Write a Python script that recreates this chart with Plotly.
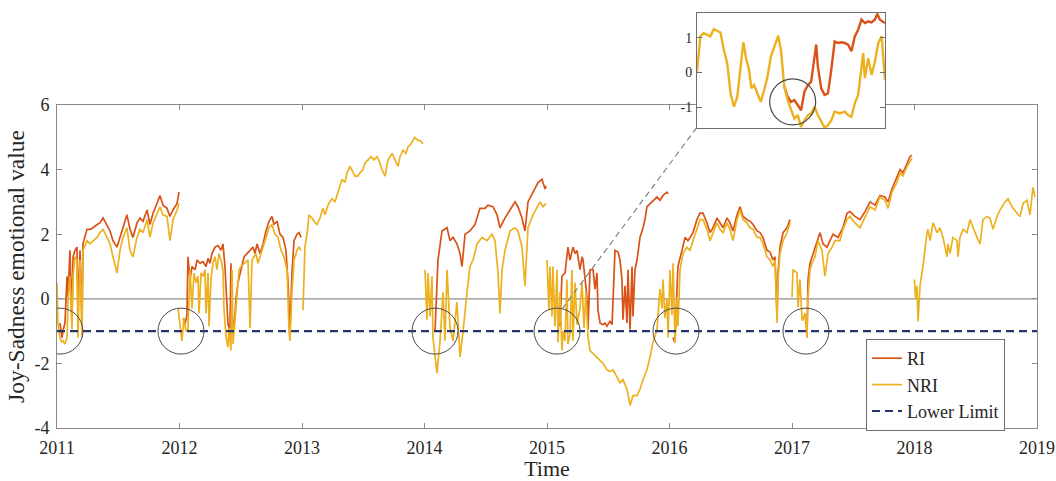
import plotly.graph_objects as go

# ---------------- data (decimal years, Joy-Sadness value) ----------------
nri_2011_t = [2011.000, 2011.008, 2011.024, 2011.041, 2011.049, 2011.065, 2011.082, 2011.090, 2011.106, 2011.122,
              2011.131, 2011.147, 2011.163, 2011.171, 2011.188, 2011.204, 2011.212, 2011.245, 2011.269, 2011.294,
              2011.327, 2011.351, 2011.376, 2011.408, 2011.433, 2011.457, 2011.490, 2011.514, 2011.539, 2011.571,
              2011.596, 2011.620, 2011.653, 2011.678, 2011.702, 2011.735, 2011.759, 2011.784, 2011.816, 2011.841,
              2011.865, 2011.898, 2011.922, 2011.947, 2011.980, 2011.996]
nri_2011_v = [0.5, -0.75, -1.2, -1.35, -1.3, -1.4, -1.2, 0.0, 0.7, -0.95,
              0.7, 1.3, 1.2, -1.2, 1.2, -1.2, 1.5, 1.8, 1.7, 1.8,
              1.9, 2.05, 2.15, 1.9, 1.7, 1.3, 0.8, 1.5, 1.9, 2.2,
              1.5, 1.3, 1.9, 2.15, 2.05, 2.45, 1.9, 2.35, 2.65, 2.85,
              2.6, 2.55, 1.8, 2.45, 2.75, 2.95]
ri_2011_t = [2011.024, 2011.041, 2011.049, 2011.065, 2011.082, 2011.090, 2011.106, 2011.122,
             2011.131, 2011.147, 2011.163, 2011.171, 2011.188, 2011.204, 2011.212, 2011.245, 2011.269, 2011.294,
             2011.327, 2011.351, 2011.376, 2011.408, 2011.433, 2011.457, 2011.490, 2011.514, 2011.539, 2011.571,
             2011.596, 2011.620, 2011.653, 2011.678, 2011.702, 2011.735, 2011.759, 2011.784, 2011.816, 2011.841,
             2011.865, 2011.898, 2011.922, 2011.947, 2011.980, 2011.996]
ri_2011_v = [-0.75, -1.2, -1.0, -0.75, 0.7, 0.05, 1.5, -0.65,
             1.3, 1.5, 1.6, -0.35, 1.5, -0.75, 1.7, 2.15, 2.15, 2.2,
             2.3, 2.35, 2.5, 2.3, 2.1, 1.8, 1.6, 1.9, 2.2, 2.6,
             2.15, 1.9, 2.35, 2.5, 2.4, 2.75, 2.3, 2.65, 2.95, 3.2,
             2.9, 2.8, 2.55, 2.75, 2.95, 3.3]

ri_2012_t = [2012.029, 2012.045, 2012.061, 2012.069, 2012.086, 2012.102, 2012.127, 2012.143, 2012.167, 2012.192,
             2012.216, 2012.233, 2012.249, 2012.265, 2012.290, 2012.314, 2012.339, 2012.355, 2012.371, 2012.380,
             2012.396, 2012.412, 2012.420, 2012.429, 2012.445, 2012.461, 2012.478, 2012.502, 2012.527, 2012.551,
             2012.576, 2012.600, 2012.616, 2012.633, 2012.657, 2012.682, 2012.706, 2012.731, 2012.755, 2012.771,
             2012.796, 2012.820, 2012.845, 2012.869, 2012.886, 2012.902, 2012.918, 2012.935, 2012.959, 2012.976,
             2012.992]
ri_2012_v = [-0.6, -0.8, -0.5, 1.3, 0.6, 1.0, 0.9, 1.2, 1.1, 1.15,
             1.0, 1.25, 1.1, 1.4, 1.6, 1.65, 1.5, 1.7, 1.0, 0.2,
             -0.8, -0.95, 1.1, -0.5, -0.95, 0.0, 0.5, 0.9, 1.3, 1.4,
             1.5, 1.6, 1.4, 1.7, 1.4, 1.7, 2.1, 2.4, 2.55, 2.3,
             2.4, 2.0, 1.9, 1.5, 0.5, -1.0, 0.8, 1.8, 2.0, 2.05,
             1.9]
nri_2012_t = [2011.988, 2012.004, 2012.020, 2012.037, 2012.053, 2012.069, 2012.078, 2012.086, 2012.102, 2012.118,
              2012.135, 2012.151, 2012.159, 2012.176, 2012.192, 2012.208, 2012.216, 2012.233, 2012.241, 2012.257,
              2012.273, 2012.290, 2012.306, 2012.322, 2012.339, 2012.355, 2012.363, 2012.380, 2012.396, 2012.404,
              2012.420, 2012.429, 2012.437, 2012.453, 2012.469, 2012.486, 2012.502, 2012.535, 2012.559, 2012.576,
              2012.592, 2012.624, 2012.641, 2012.657, 2012.682, 2012.706, 2012.731, 2012.755, 2012.780, 2012.804,
              2012.829, 2012.853, 2012.878, 2012.894, 2012.902, 2012.918, 2012.935, 2012.959, 2012.976, 2012.992]
nri_2012_v = [-0.3, -0.9, -1.3, -0.6, -1.0, -0.95, 0.2, 0.9, -0.3, 0.8,
              0.5, 0.7, -0.45, 0.8, 0.7, 0.9, -0.45, 0.8, -0.85, 0.6,
              1.1, 1.3, 0.9, 1.4, 1.2, 0.9, -0.3, -1.2, -1.5, -0.9,
              -1.6, 0.9, -1.4, -0.6, 0.3, 0.9, 1.0, 1.1, 1.2, -0.9,
              1.2, 1.4, 1.1, 1.3, 1.6, 1.9, 2.2, 2.3, 2.0, 1.9,
              1.5, 1.3, 0.9, -1.0, -1.3, 0.2, 1.2, 1.5, 1.6, 1.5]

nri_2013_t = [2013.008, 2013.024, 2013.041, 2013.057, 2013.082, 2013.098, 2013.122, 2013.147, 2013.171, 2013.188,
              2013.212, 2013.245, 2013.269, 2013.294, 2013.327, 2013.351, 2013.367, 2013.392, 2013.408, 2013.433,
              2013.457, 2013.473, 2013.498, 2013.514, 2013.539, 2013.563, 2013.588, 2013.612, 2013.637, 2013.653,
              2013.678, 2013.702, 2013.735, 2013.759, 2013.784, 2013.800, 2013.824, 2013.849, 2013.865, 2013.890,
              2013.922, 2013.947, 2013.963, 2013.988]
nri_2013_v = [-0.35, 1.6, 2.0, 2.6, 2.5, 2.4, 2.3, 2.5, 2.8, 2.6,
              2.9, 3.1, 3.0, 3.3, 3.7, 3.6, 3.9, 4.1, 4.0, 3.8,
              3.8, 3.9, 4.0, 4.2, 4.3, 4.4, 4.3, 4.4, 4.2, 4.0,
              3.8, 4.3, 4.5, 4.3, 4.1, 4.4, 4.6, 4.5, 4.7, 4.8,
              5.0, 4.9, 4.9, 4.8]

nri_2014_t = [2014.004, 2014.020, 2014.029, 2014.045, 2014.061, 2014.069, 2014.102, 2014.127, 2014.151, 2014.167,
              2014.184, 2014.208, 2014.233, 2014.265, 2014.290, 2014.314, 2014.347, 2014.371, 2014.396, 2014.429,
              2014.469, 2014.510, 2014.551, 2014.576, 2014.600, 2014.616, 2014.633, 2014.657, 2014.698, 2014.739,
              2014.763, 2014.796, 2014.820, 2014.845, 2014.886, 2014.943, 2014.967, 2014.992]
nri_2014_v = [0.9, -0.65, 0.8, -0.55, 0.7, -1.2, -2.3, -1.3, 0.2, -1.3,
              0.9, -0.9, -1.3, -0.1, -1.8, -1.05, 0.2, 1.0, 1.2, 1.7,
              1.9, 1.8, 2.0, 1.8, 0.8, -0.45, 0.9, 1.5, 2.1, 2.2,
              2.1, 1.6, 0.4, 2.2, 2.6, 3.0, 2.85, 2.95]
ri_2014_t = [2014.086, 2014.110, 2014.143, 2014.184, 2014.208, 2014.233, 2014.265, 2014.290, 2014.306, 2014.331,
             2014.371, 2014.412, 2014.453, 2014.494, 2014.518, 2014.559, 2014.592, 2014.616, 2014.657, 2014.698,
             2014.739, 2014.763, 2014.796, 2014.820, 2014.845, 2014.886, 2014.927, 2014.959, 2014.984, 2014.992]
ri_2014_v = [-1.0, 1.2, 2.1, 2.2, 1.8, 1.9, 1.7, 1.4, 1.0, 2.0,
             2.1, 2.3, 2.8, 2.8, 2.9, 2.85, 2.6, 2.2, 2.5, 2.75,
             3.0, 2.85, 2.5, 2.1, 3.0, 3.3, 3.6, 3.7, 3.4, 3.5]

nri_2015_16_t = [2015.000, 2015.016, 2015.024, 2015.041, 2015.049, 2015.065, 2015.082, 2015.090, 2015.106, 2015.122,
                 2015.131, 2015.147, 2015.163, 2015.171, 2015.188, 2015.204, 2015.212, 2015.229, 2015.245, 2015.269,
                 2015.286, 2015.302, 2015.318, 2015.335, 2015.351, 2015.376, 2015.408, 2015.433, 2015.457, 2015.490,
                 2015.514, 2015.539, 2015.571, 2015.596, 2015.620, 2015.653, 2015.678, 2015.694, 2015.702, 2015.735,
                 2015.759, 2015.784, 2015.816, 2015.841, 2015.865, 2015.898, 2015.906, 2015.922, 2015.939, 2015.947,
                 2015.963, 2015.980, 2015.988, 2016.004, 2016.020, 2016.029, 2016.045, 2016.061, 2016.069, 2016.086,
                 2016.110, 2016.143, 2016.167, 2016.192, 2016.224, 2016.249, 2016.273, 2016.306, 2016.331, 2016.355,
                 2016.388, 2016.412, 2016.437, 2016.469, 2016.494, 2016.518, 2016.551, 2016.576, 2016.600, 2016.633,
                 2016.657, 2016.682, 2016.714, 2016.739, 2016.763, 2016.796, 2016.820, 2016.845, 2016.861, 2016.878,
                 2016.886, 2016.902, 2016.927, 2016.959, 2016.984]
nri_2015_16_v = [1.2, -0.35, 1.0, -0.55, 1.0, -0.85, 0.9, -1.35, 0.2, -1.6,
                 -1.0, -1.3, 0.6, -1.4, -1.1, 0.9, -1.3, 0.5, -0.8, -0.3,
                 0.5, -0.9, 0.2, -1.2, -1.6, -1.7, -1.8, -1.9, -2.0, -2.2,
                 -2.25, -2.2, -2.4, -2.6, -2.5, -2.8, -3.3, -3.1, -3.0, -3.0,
                 -2.8, -2.5, -2.2, -1.8, -1.35, -0.95, -0.45, 0.3, -0.3, 0.6,
                 -0.6, 0.0, -1.2, 0.9, -0.5, 1.1, -1.35, 0.05, -0.85, 0.9,
                 1.4, 1.6, 1.5, 1.8, 2.2, 2.45, 2.45, 2.15, 1.8, 2.05,
                 2.35, 2.15, 2.05, 2.35, 2.15, 1.8, 2.45, 2.75, 2.45, 2.35,
                 2.2, 2.15, 1.9, 1.9, 1.7, 1.3, 1.2, 1.0, 1.2, -0.75,
                 0.6, 1.4, 1.8, 2.05, 2.35]
ri_2015_t = [2015.106, 2015.122, 2015.147, 2015.171, 2015.188, 2015.212, 2015.229, 2015.245, 2015.269, 2015.286,
             2015.294, 2015.327, 2015.335, 2015.351, 2015.376, 2015.392, 2015.408, 2015.416, 2015.433, 2015.457,
             2015.473, 2015.490, 2015.514, 2015.531, 2015.555, 2015.580, 2015.596, 2015.612, 2015.620, 2015.637,
             2015.653, 2015.661, 2015.678, 2015.694, 2015.702, 2015.718, 2015.735, 2015.743, 2015.759, 2015.784,
             2015.800, 2015.816, 2015.841, 2015.865, 2015.898, 2015.922, 2015.947, 2015.980, 2015.988]
ri_2015_v = [-0.85, 0.7, 0.8, 1.6, 1.2, 1.6, 1.4, 1.5, 0.9, 1.3,
             1.2, 0.05, -0.95, 0.9, 0.9, 0.3, 0.8, -0.35, -0.75, -0.8,
             -0.75, -0.85, -0.7, -0.8, 1.5, 1.45, 1.2, 0.6, -0.65, 0.4,
             -0.75, 0.9, -0.95, 1.0, -0.55, 0.9, 1.2, 1.5, 1.9, 2.2,
             2.45, 2.85, 2.95, 3.05, 3.15, 3.05, 3.2, 3.3, 3.25]
ri_2016_t = [2016.029, 2016.045, 2016.061, 2016.069, 2016.102, 2016.127, 2016.151, 2016.192, 2016.224, 2016.249,
             2016.273, 2016.306, 2016.331, 2016.355, 2016.388, 2016.412, 2016.437, 2016.469, 2016.494, 2016.518,
             2016.551, 2016.576, 2016.600, 2016.633, 2016.657, 2016.682, 2016.714, 2016.739, 2016.763, 2016.796,
             2016.820, 2016.845, 2016.861, 2016.878, 2016.886, 2016.902, 2016.927, 2016.959, 2016.984]
ri_2016_v = [-1.2, -1.35, 0.3, 1.0, 1.5, 1.9, 1.8, 2.05, 2.45, 2.65,
             2.65, 2.35, 2.05, 2.2, 2.5, 2.35, 2.2, 2.5, 2.35, 2.1,
             2.6, 2.85, 2.55, 2.45, 2.4, 2.3, 2.1, 2.05, 1.9, 1.5,
             1.45, 1.2, 1.3, -0.5, 0.8, 1.6, 2.05, 2.2, 2.45]

nri_2017_t = [2017.000, 2017.008, 2017.041, 2017.049, 2017.065, 2017.082, 2017.090, 2017.106, 2017.122, 2017.131,
              2017.147, 2017.163, 2017.188, 2017.212, 2017.245, 2017.269, 2017.294, 2017.327, 2017.351, 2017.392,
              2017.416, 2017.449, 2017.473, 2017.514, 2017.555, 2017.596, 2017.637, 2017.678, 2017.718, 2017.759,
              2017.784, 2017.816, 2017.857, 2017.882, 2017.906, 2017.939, 2017.963, 2017.980]
nri_2017_v = [0.05, 0.9, 0.8, -0.25, 0.6, -0.65, -0.65, -0.45, -1.2, 0.05,
              0.9, 1.1, 1.3, 1.8, 1.5, 0.7, 1.4, 1.6, 1.8, 1.8,
              2.15, 2.45, 2.55, 2.35, 2.2, 2.55, 2.85, 2.75, 3.15, 3.05,
              2.8, 3.3, 3.6, 3.9, 3.8, 4.1, 4.25, 4.35]
ri_2017_t = [2017.122, 2017.131, 2017.147, 2017.171, 2017.204, 2017.229, 2017.253, 2017.286, 2017.310, 2017.335,
             2017.376, 2017.416, 2017.449, 2017.473, 2017.514, 2017.555, 2017.596, 2017.637, 2017.678, 2017.718,
             2017.759, 2017.784, 2017.816, 2017.857, 2017.882, 2017.906, 2017.939, 2017.963, 2017.980]
ri_2017_v = [-1.2, 0.6, 1.1, 1.4, 1.8, 2.05, 1.7, 1.6, 1.8, 2.0,
             1.9, 2.2, 2.65, 2.7, 2.55, 2.45, 2.7, 3.0, 2.9, 3.2,
             3.15, 3.0, 3.4, 3.75, 4.0, 3.9, 4.2, 4.4, 4.45]

nri_2018_t = [2018.000, 2018.008, 2018.020, 2018.029, 2018.045, 2018.069, 2018.102, 2018.110, 2018.127, 2018.151,
              2018.184, 2018.208, 2018.233, 2018.265, 2018.273, 2018.290, 2018.314, 2018.347, 2018.355, 2018.371,
              2018.396, 2018.429, 2018.453, 2018.478, 2018.510, 2018.535, 2018.559, 2018.592, 2018.616, 2018.641,
              2018.673, 2018.698, 2018.739, 2018.763, 2018.796, 2018.837, 2018.861, 2018.886, 2018.918, 2018.943,
              2018.967, 2018.984]
nri_2018_v = [0.6, 0.0, 0.4, -0.7, 0.4, 1.0, 2.05, 2.15, 1.8, 2.35,
              2.05, 2.2, 1.9, 1.3, 1.7, 1.4, 1.9, 1.8, 1.3, 1.9,
              2.15, 2.05, 2.45, 2.2, 1.9, 1.7, 2.45, 2.55, 2.5, 2.15,
              2.55, 2.75, 3.0, 3.1, 2.85, 2.65, 2.55, 2.95, 3.05, 2.6,
              3.45, 3.15]

lower_limit = -1.0
year_ticks = [2011, 2012, 2013, 2014, 2015, 2016, 2017, 2018, 2019]
value_ticks = [-4, -2, 0, 2, 4, 6]
value_tick_text = ["-4", "-2", "0", "2", "4", "6"]
circle_years = [2011.024, 2012.012, 2014.086, 2015.082, 2016.053, 2017.114]

# inset (zoomed window, days)
inset_nri_day = [0, 1, 2, 3, 4, 5, 6, 7, 8, 9, 10, 11, 12, 13, 13.8, 14.7, 15.5, 16.2, 17, 18, 19, 20, 21, 22,
                 23.3, 24.2, 25, 26, 27, 28, 29, 30, 31, 32, 33, 34, 35, 36, 37, 38, 39, 40, 41, 42.5, 44, 45,
                 46, 47, 48, 49, 49.5, 50, 51, 52, 53, 54, 55, 56]
inset_nri_val = [0.03, 1.04, 1.13, 1.09, 1.04, 1.25, 1.21, 1.15, 0.65, 0.27, -0.6, -0.98, -0.69, 0.17,
                 0.87, 0.37, 0.08, -0.45, -0.36, -0.6, -0.84, -0.5, -0.12, 0.46, 0.85, 1.06,
                 0.65, -0.4, -0.79, -1.08, -1.32, -1.22, -1.56, -1.37, -1.22, -1.17, -0.98, -1.22, -1.41, -1.58,
                 -1.51, -1.37, -1.12, -1.17, -1.12, -1.22, -1.27, -0.88, -0.64, 0.08, 0.56, -0.16, 0.41, -0.07,
                 0.32, 0.85, 1.04, -0.21]
inset_ri_day = [26, 27, 28, 29, 30, 31, 32, 33, 34, 35, 35.5, 36, 37, 38, 39, 40, 41, 42, 43, 44, 45, 46,
                47, 48, 49, 50, 51, 52, 53, 53.7, 54.5, 56]
inset_ri_val = [-0.4, -0.69, -0.84, -0.79, -0.93, -1.08, -0.55, -0.36, -0.26, 0.56, 0.8, 0.17, -0.45, -0.64,
                -0.6, 0.08, 0.89, 0.85, 0.87, 0.85, 0.8, 0.61, 1.04, 1.23, 1.52, 1.42, 1.47, 1.44, 1.52,
                1.69, 1.52, 1.42]
inset_ticks = [-1, 0, 1]
inset_tick_text = ["-1", "0", "1"]
inset_circle = (28.5, -0.84)


def join(*segs):
    xs, ys = [], []
    for t, v in segs:
        if xs:
            xs.append(None)
            ys.append(None)
        xs.extend(t)
        ys.extend(v)
    return xs, ys


ri_x, ri_y = join((ri_2011_t, ri_2011_v), (ri_2012_t, ri_2012_v), (ri_2014_t, ri_2014_v),
                  (ri_2015_t, ri_2015_v), (ri_2016_t, ri_2016_v), (ri_2017_t, ri_2017_v))
nri_x, nri_y = join((nri_2011_t, nri_2011_v), (nri_2012_t, nri_2012_v), (nri_2013_t, nri_2013_v),
                    (nri_2014_t, nri_2014_v), (nri_2015_16_t, nri_2015_16_v), (nri_2017_t, nri_2017_v),
                    (nri_2018_t, nri_2018_v))

# ---------------- style / layout ----------------
W, H = 1056, 481
RI_C = "#d95319"
NRI_C = "#edb120"
LL_C = "#27336b"
AX_C = "#8a8a8a"
TXT = "#262626"
FONT = "Liberation Serif"

main_x = [57 / W, 1037 / W]
main_y = [1 - 428 / H, 1 - 105 / H]
ins_x = [697 / W, 885 / W]
ins_y = [1 - 128 / H, 1 - 13 / H]

fig = go.Figure()
fig.add_trace(go.Scatter(x=ri_x, y=ri_y, mode="lines", name="RI",
                         line=dict(color=RI_C, width=1.7), connectgaps=False))
fig.add_trace(go.Scatter(x=nri_x, y=nri_y, mode="lines", name="NRI",
                         line=dict(color=NRI_C, width=1.7), connectgaps=False))
fig.add_trace(go.Scatter(x=[year_ticks[0], year_ticks[-1]], y=[lower_limit, lower_limit], mode="lines",
                         name="Lower Limit", line=dict(color=LL_C, width=2.2, dash="8px,5px")))

fig.add_trace(go.Scatter(x=inset_ri_day, y=inset_ri_val, mode="lines", showlegend=False,
                         line=dict(color=RI_C, width=2.4), xaxis="x2", yaxis="y2"))
fig.add_trace(go.Scatter(x=inset_nri_day, y=inset_nri_val, mode="lines", showlegend=False,
                         line=dict(color=NRI_C, width=2.4), xaxis="x2", yaxis="y2"))

shapes = [dict(type="line", xref="x", yref="y", x0=year_ticks[0], x1=year_ticks[-1], y0=0, y1=0,
               line=dict(color="#8c8c8c", width=1.3), layer="below")]
for cy in circle_years:
    shapes.append(dict(type="circle", xref="x", yref="y", xsizemode="pixel", ysizemode="pixel",
                       xanchor=cy, yanchor=lower_limit, x0=-23, x1=23, y0=-23, y1=23,
                       line=dict(color="#4a4a4a", width=1)))
shapes.append(dict(type="circle", xref="x2", yref="y2", xsizemode="pixel", ysizemode="pixel",
                   xanchor=inset_circle[0], yanchor=inset_circle[1], x0=-23, x1=23, y0=-23, y1=23,
                   line=dict(color="#4a4a4a", width=1.2)))
shapes.append(dict(type="line", xref="x", yref="y", xsizemode="pixel", ysizemode="pixel",
                   xanchor=circle_years[3], yanchor=lower_limit, x0=5, y0=22, x1=140, y1=204,
                   line=dict(color="#7a7a7a", width=1.1, dash="6px,4px")))

axis_common = dict(showgrid=False, zeroline=False, showline=True, linecolor=AX_C, linewidth=1,
                   mirror="ticks", ticks="inside", ticklen=5, tickcolor=AX_C, automargin=False,
                   tickfont=dict(family=FONT, size=18, color=TXT))

fig.update_layout(
    width=W, height=H, autosize=False,
    margin=dict(l=0, r=0, t=0, b=0, pad=0),
    paper_bgcolor="white", plot_bgcolor="white",
    font=dict(family=FONT, color=TXT),
    shapes=shapes,
    showlegend=True,
    legend=dict(x=866 / W, y=1 - 339 / H, xanchor="left", yanchor="top",
                bgcolor="white", bordercolor="#6e6e6e", borderwidth=1,
                font=dict(family=FONT, size=18, color=TXT), tracegroupgap=0, itemwidth=30),
    xaxis=dict(domain=main_x, range=[year_ticks[0], year_ticks[-1]], tickvals=year_ticks,
               ticktext=[str(y) for y in year_ticks], anchor="y",
               title=dict(text="Time", font=dict(family=FONT, size=22, color=TXT), standoff=4),
               ticklabelstandoff=3, **axis_common),
    yaxis=dict(domain=main_y, range=[value_ticks[0], value_ticks[-1]], tickvals=value_ticks,
               ticktext=value_tick_text, anchor="x",
               title=dict(text="Joy-Sadness emotional value", font=dict(family=FONT, size=23.5, color=TXT),
                          standoff=3),
               ticklabelstandoff=3, **axis_common),
    xaxis2=dict(domain=ins_x, range=[inset_nri_day[0], inset_nri_day[-1]], anchor="y2",
                showticklabels=False, showgrid=False, zeroline=False, showline=True, automargin=False,
                linecolor="#6e6e6e", linewidth=1, mirror=True, ticks=""),
    yaxis2=dict(domain=ins_y, range=[-1.59, 1.71], anchor="x2", tickvals=inset_ticks,
                ticktext=inset_tick_text, automargin=False,
                showgrid=False, zeroline=False, showline=True, linecolor="#6e6e6e", linewidth=1,
                mirror="ticks", ticks="inside", ticklen=5, tickcolor="#6e6e6e",
                tickfont=dict(family=FONT, size=14, color=TXT), ticklabelstandoff=1),
)

fig.write_html("out.html", config={"displayModeBar": False},
               post_script="document.body.style.margin='0px';")
